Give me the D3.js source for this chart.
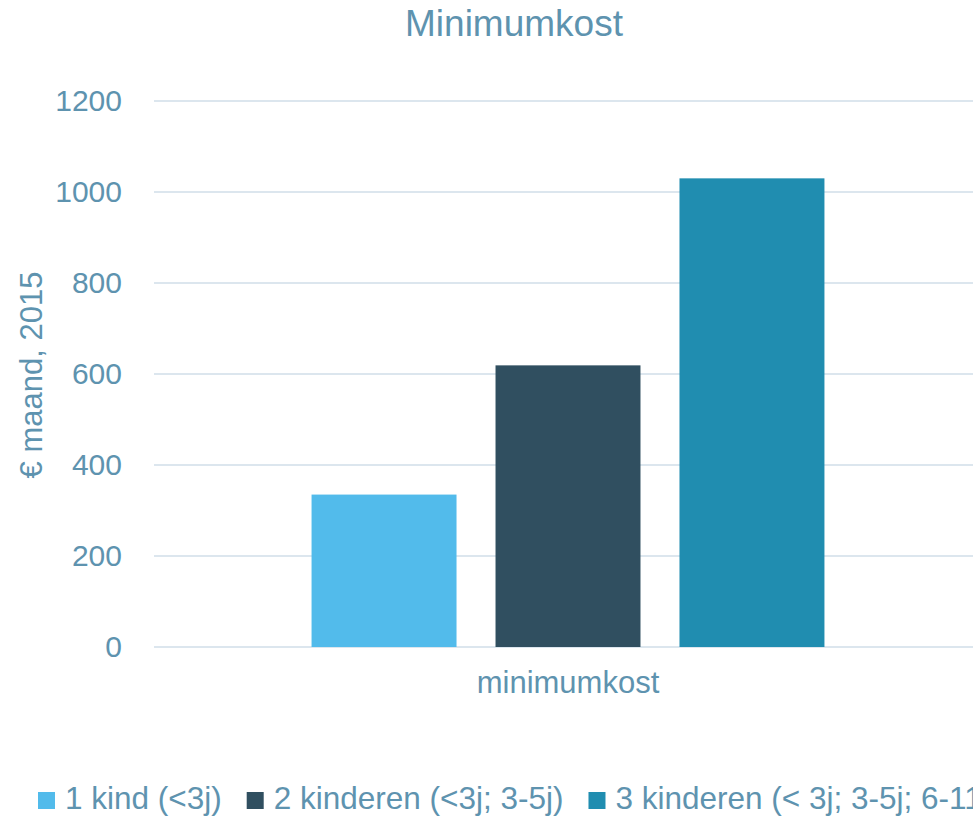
<!DOCTYPE html>
<html>
<head>
<meta charset="utf-8">
<script src="https://cdn.jsdelivr.net/npm/d3@7"></script>
<style>
  body { margin: 0; background: #fff; }
  svg { display: block; font-family: "Liberation Sans", Arial, sans-serif; }
</style>
</head>
<body>
<div id="container"></div>
<script>
const width = 973, height = 818;

// data
const categories = ["minimumkost"];
const seriesNames = ["1 kind (<3j)", "2 kinderen (<3j; 3-5j)", "3 kinderen (< 3j; 3-5j; 6-11j)"];
const seriesValues = [335, 619, 1030];
const seriesColors = ["#52bbeb", "#304f60", "#208db0"];
const yTicks = [0, 200, 400, 600, 800, 1000, 1200];

const textColor = "#5e93af";
const gridColor = "#dce6ee";

const plot = { left: 154, right: 982, top: 101, bottom: 647 };

const svg = d3.select("#container")
  .append("svg")
  .attr("width", width)
  .attr("height", height);

// scales
const yScale = d3.scaleLinear()
  .domain([0, 1200])
  .range([plot.bottom, plot.top]);

const x0 = d3.scaleBand()
  .domain(categories)
  .range([plot.left, plot.right])
  .padding(0.235);

const x1 = d3.scaleBand()
  .domain(seriesNames)
  .range([0, x0.bandwidth()])
  .paddingInner(0.212)
  .paddingOuter(0);

// gridlines
svg.append("g")
  .selectAll("line")
  .data(yTicks)
  .enter()
  .append("line")
  .attr("x1", plot.left)
  .attr("x2", plot.right)
  .attr("y1", d => yScale(d))
  .attr("y2", d => yScale(d))
  .attr("stroke", gridColor)
  .attr("stroke-width", 2);

// y axis labels
svg.append("g")
  .attr("transform", `translate(${plot.left},0)`)
  .call(d3.axisLeft(yScale).tickValues(yTicks).tickFormat(d3.format("d")).tickSize(0).tickPadding(32))
  .call(g => g.select(".domain").remove())
  .call(g => g.selectAll("text")
    .attr("fill", textColor)
    .style("font-size", "30px")
    .style("font-family", "'Liberation Sans', Arial, sans-serif"));

// bars
const groups = svg.append("g")
  .selectAll("g")
  .data(categories)
  .enter()
  .append("g")
  .attr("transform", d => `translate(${x0(d)},0)`);

groups.selectAll("rect")
  .data(() => seriesNames.map((s, i) => ({ name: s, value: seriesValues[i], color: seriesColors[i] })))
  .enter()
  .append("rect")
  .attr("x", d => x1(d.name))
  .attr("y", d => yScale(d.value))
  .attr("width", x1.bandwidth())
  .attr("height", d => yScale(0) - yScale(d.value))
  .attr("fill", d => d.color);

// x axis labels
svg.append("g")
  .attr("transform", `translate(0,${plot.bottom})`)
  .call(d3.axisBottom(x0).tickSize(0).tickPadding(24))
  .call(g => g.select(".domain").remove())
  .call(g => g.selectAll("text")
    .attr("fill", textColor)
    .style("font-size", "31px")
    .style("font-family", "'Liberation Sans', Arial, sans-serif"));

// title
svg.append("text")
  .attr("x", 514)
  .attr("y", 36)
  .attr("text-anchor", "middle")
  .attr("fill", textColor)
  .style("font-size", "37px")
  .text("Minimumkost");

// y axis title
svg.append("text")
  .attr("transform", "rotate(-90)")
  .attr("x", -375)
  .attr("y", 42)
  .attr("text-anchor", "middle")
  .attr("fill", textColor)
  .style("font-size", "31px")
  .text("€ maand, 2015");

// legend
const legend = svg.append("g");
let lx = 38;
seriesNames.forEach((name, i) => {
  legend.append("rect")
    .attr("x", lx)
    .attr("y", 792)
    .attr("width", 17)
    .attr("height", 17)
    .attr("fill", seriesColors[i]);
  const t = legend.append("text")
    .attr("x", lx + 27)
    .attr("y", 809)
    .attr("fill", textColor)
    .style("font-size", "31.5px")
    .text(name);
  lx += 27 + t.node().getComputedTextLength() + 25;
});
</script>
</body>
</html>
